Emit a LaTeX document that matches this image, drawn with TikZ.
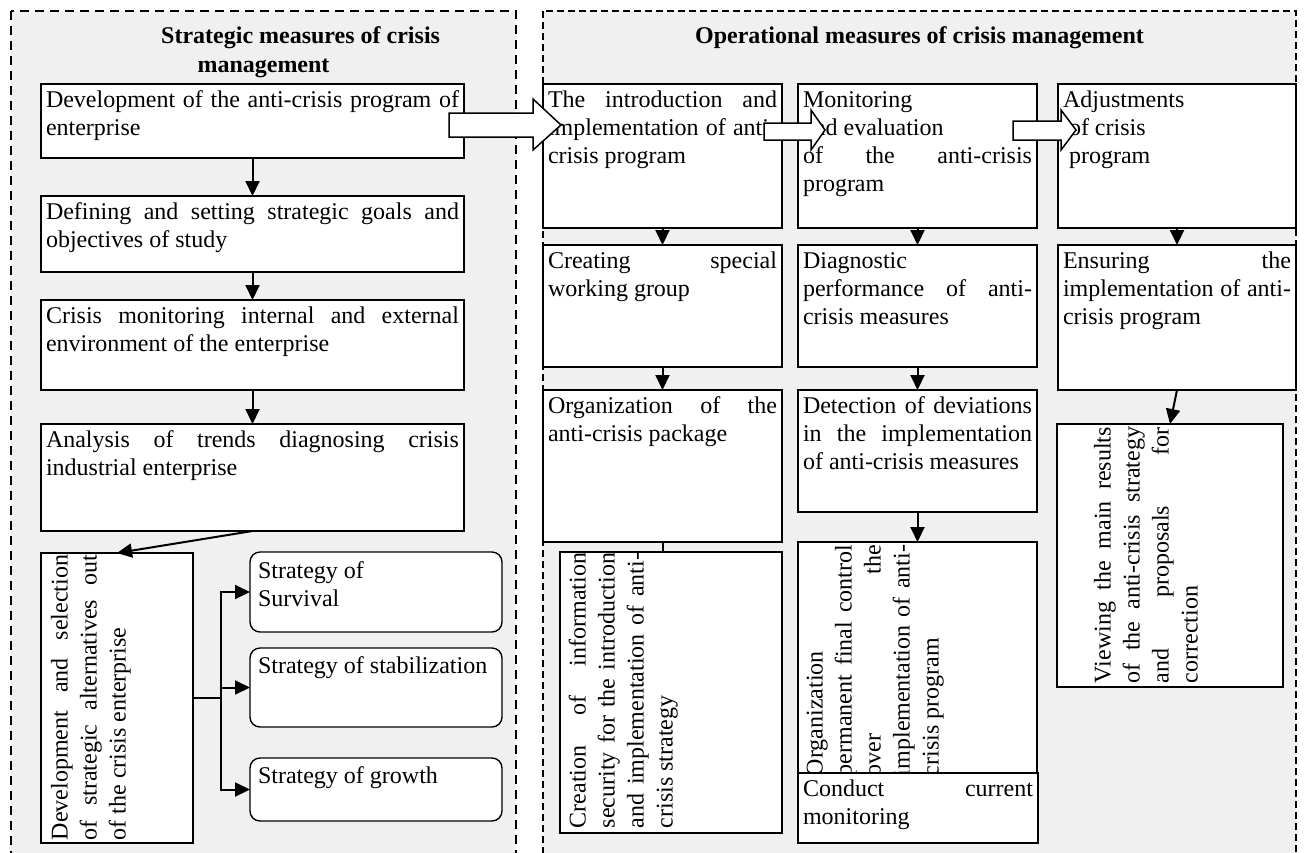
\documentclass[tikz,border=0pt]{standalone}
\usepackage{fontspec}
\setmainfont{Liberation Serif}
\usetikzlibrary{arrows.meta,calc}
\definecolor{panelgray}{RGB}{240,240,240}
% a line stretched to the full text width
\newcommand\J[1]{\makebox[\hsize][s]{#1}}
% normal interword spacing inside ragged nodes
\newcommand\plainspaces{\spaceskip=0pt\xspaceskip=0pt\relax}

\tikzset{
  box/.style={draw, fill=white, line width=1.4pt, inner sep=0pt, outer sep=0pt, anchor=north west},
  roundbox/.style={box, rounded corners=10pt},
  txt/.style={anchor=north west, inner sep=0pt, outer sep=0pt, align=left,
              font=\fontsize{24}{28}\selectfont},
  rtxt/.style={txt, rotate=90, font=\fontsize{24}{29}\selectfont},
  conn/.style={line width=2pt, -{Triangle[length=15pt,width=14pt]}},
  link/.style={line width=2pt},
  bigarrow/.style={draw, fill=white, line width=1.5pt, line join=miter},
  leftpanel/.style={line width=2.4pt, dash pattern=on 9pt off 6pt},
  rightpanel/.style={line width=1.3pt, dash pattern=on 7pt off 4pt},
  title/.style={inner sep=0pt, font=\fontsize{24}{28}\selectfont\bfseries},
}

% box with horizontal text: [style]{name}{x}{y}{w}{h}{padx}{pady}{text}
\newcommand\tbox[9][box]{%
  \node[#1, minimum width=#5pt, minimum height=#6pt] (#2) at (#3,#4) {};
  \pgfmathsetmacro\tw{#5-2*#7}
  \node[txt, text width=\tw pt] (#2-t) at ([shift={(#7,#8)}]#2.north west) {\plainspaces\strut #9};
}
% box with text reading upwards: {name}{x}{y}{w}{h}{padleft}{padbottom}{textwidth}{text}
\newcommand\upbox[9]{%
  \node[box, minimum width=#4pt, minimum height=#5pt] (#1) at (#2,#3) {};
  \node[rtxt, text width=#8pt] (#1-t) at ([shift={(#6,-#7)}]#1.south west) {\plainspaces\strut #9};
}

\begin{document}
\begin{tikzpicture}[x=1pt, y=-1pt]
\useasboundingbox (0,0) rectangle (1305,852);
\clip (0,0) rectangle (1305,852);

% panels
\fill[panelgray] (11,11) rectangle (516,880);
\draw[leftpanel] (11,11) rectangle (516,880);
\fill[panelgray] (543,11) rectangle (1296,880);
\draw[rightpanel] (543,11) rectangle (1296,880);

\node[title, anchor=base west] (lt1) at (161,43.5) {Strategic measures of crisis};
\node[title, anchor=base] (lt2) at (263.5,72.5) {management};
\node[title, anchor=base] (rt) at (919.5,43.5) {Operational measures of crisis management};

% strategic column
\tbox{b1}{41}{84}{423}{74}{5}{3.4}{\J{Development of the anti-crisis program of}\\ enterprise}
\tbox{b2}{41}{196}{423}{76}{5}{3.4}{\J{Defining and setting strategic goals and}\\ objectives of study}
\tbox{b3}{41}{300}{423}{90}{5}{3.4}{\J{Crisis monitoring internal and external}\\ environment of the enterprise}
\tbox{b4}{41}{424}{423}{107}{5}{3.4}{\J{Analysis of trends diagnosing crisis}\\ industrial enterprise}
\upbox{b5}{41}{553}{152}{290}{6.2}{3}{285}{\J{Development and selection}\\ \J{of strategic alternatives out}\\ of the crisis enterprise}

\tbox[roundbox]{s1}{250}{552}{252}{80}{8}{6.5}{Strategy of\\ Survival}
\tbox[roundbox]{s2}{250}{648}{252}{79}{8}{6}{Strategy of stabilization}
\tbox[roundbox]{s3}{250}{758}{252}{63}{8}{6}{Strategy of growth}

\draw[conn] (b1.south) -- (b2.north);
\draw[conn] (b2.south) -- (b3.north);
\draw[conn] (b3.south) -- (b4.north);
\draw[conn] (b4.south) -- (b5.north);
\coordinate (jn) at ([xshift=28pt]b5.east);
\draw[link] (b5.east) -- (jn);
\draw[link, line cap=rect] (jn |- s1.west) -- (jn |- s3.west);
\draw[conn] (jn |- s1.west) -- (s1.west);
\draw[conn] (jn |- s2.west) -- (s2.west);
\draw[conn] (jn |- s3.west) -- (s3.west);

% operational columns
\tbox{a1}{543}{84}{239}{144}{5}{3.4}{\J{The introduction and}\\ \J{implementation of anti-}\\ crisis program}
\tbox{m1}{798}{84}{239}{144}{5}{3.4}{Monitoring\\ and evaluation\\ \J{of the anti-crisis}\\ program}
\tbox{c1}{1058}{84}{238}{144}{5}{3.4}{Adjustments\\ \hspace*{6pt}of crisis\\ \hspace*{6pt}program}

\tbox{a2}{543}{245}{239}{122}{5}{3.4}{\J{Creating special}\\ working group}
\tbox{m2}{798}{245}{239}{122}{5}{3.4}{Diagnostic\\ \J{performance of anti-}\\ crisis measures}
\tbox{c2}{1058}{245}{238}{145}{5}{3.4}{\J{Ensuring the}\\ \J{implementation of anti-}\\ crisis program}

\tbox{a3}{543}{390}{239}{152}{5}{3.4}{\J{Organization of the}\\ anti-crisis package}
\tbox{m3}{798}{390}{239}{122}{5}{3.4}{\J{Detection of deviations}\\ \J{in the implementation}\\ of anti-crisis measures}

\upbox{cr}{560}{552}{222}{281}{5.2}{5}{275}{\J{Creation of information}\\ \J{security for the introduction}\\ \J{and implementation of anti-}\\ crisis strategy}
\upbox{og}{798}{542}{239}{238}{4.2}{4}{231}{Organization\\ \J{permanent final control}\\ \J{over the}\\ \J{implementation of anti-}\\ crisis program}
\tbox{cm}{798}{773}{240}{70}{5}{3.4}{\J{Conduct current}\\ monitoring}
\upbox{vw}{1057}{424}{226}{263}{33.2}{4}{256}{\J{Viewing the main results}\\ \J{of the anti-crisis strategy}\\ \J{and proposals for}\\ correction}

\draw[conn] (a1.south) -- (a2.north);
\draw[conn] (m1.south) -- (m2.north);
\draw[conn] (c1.south) -- (c2.north);
\draw[conn] (a2.south) -- (a3.north);
\draw[conn] (m2.south) -- (m3.north);
\draw[conn] (c2.south) -- (vw.north);
\draw[link] (a3.south) -- (a3.south |- cr.north);
\draw[conn] (m3.south) -- (og.north);

% block arrows between the stages
\draw[bigarrow] (449,113) -- (533,113) -- (533,99) -- (561,125) -- (533,150) -- (533,137) -- (449,137) -- cycle;
\draw[bigarrow] (764,123) -- (811,123) -- (811,110) -- (825,130) -- (811,150) -- (811,140) -- (764,140) -- cycle;
\draw[bigarrow] (1013,121) -- (1061,121) -- (1061,110) -- (1076,130) -- (1061,150) -- (1061,140) -- (1013,140) -- cycle;
\end{tikzpicture}
\end{document}
